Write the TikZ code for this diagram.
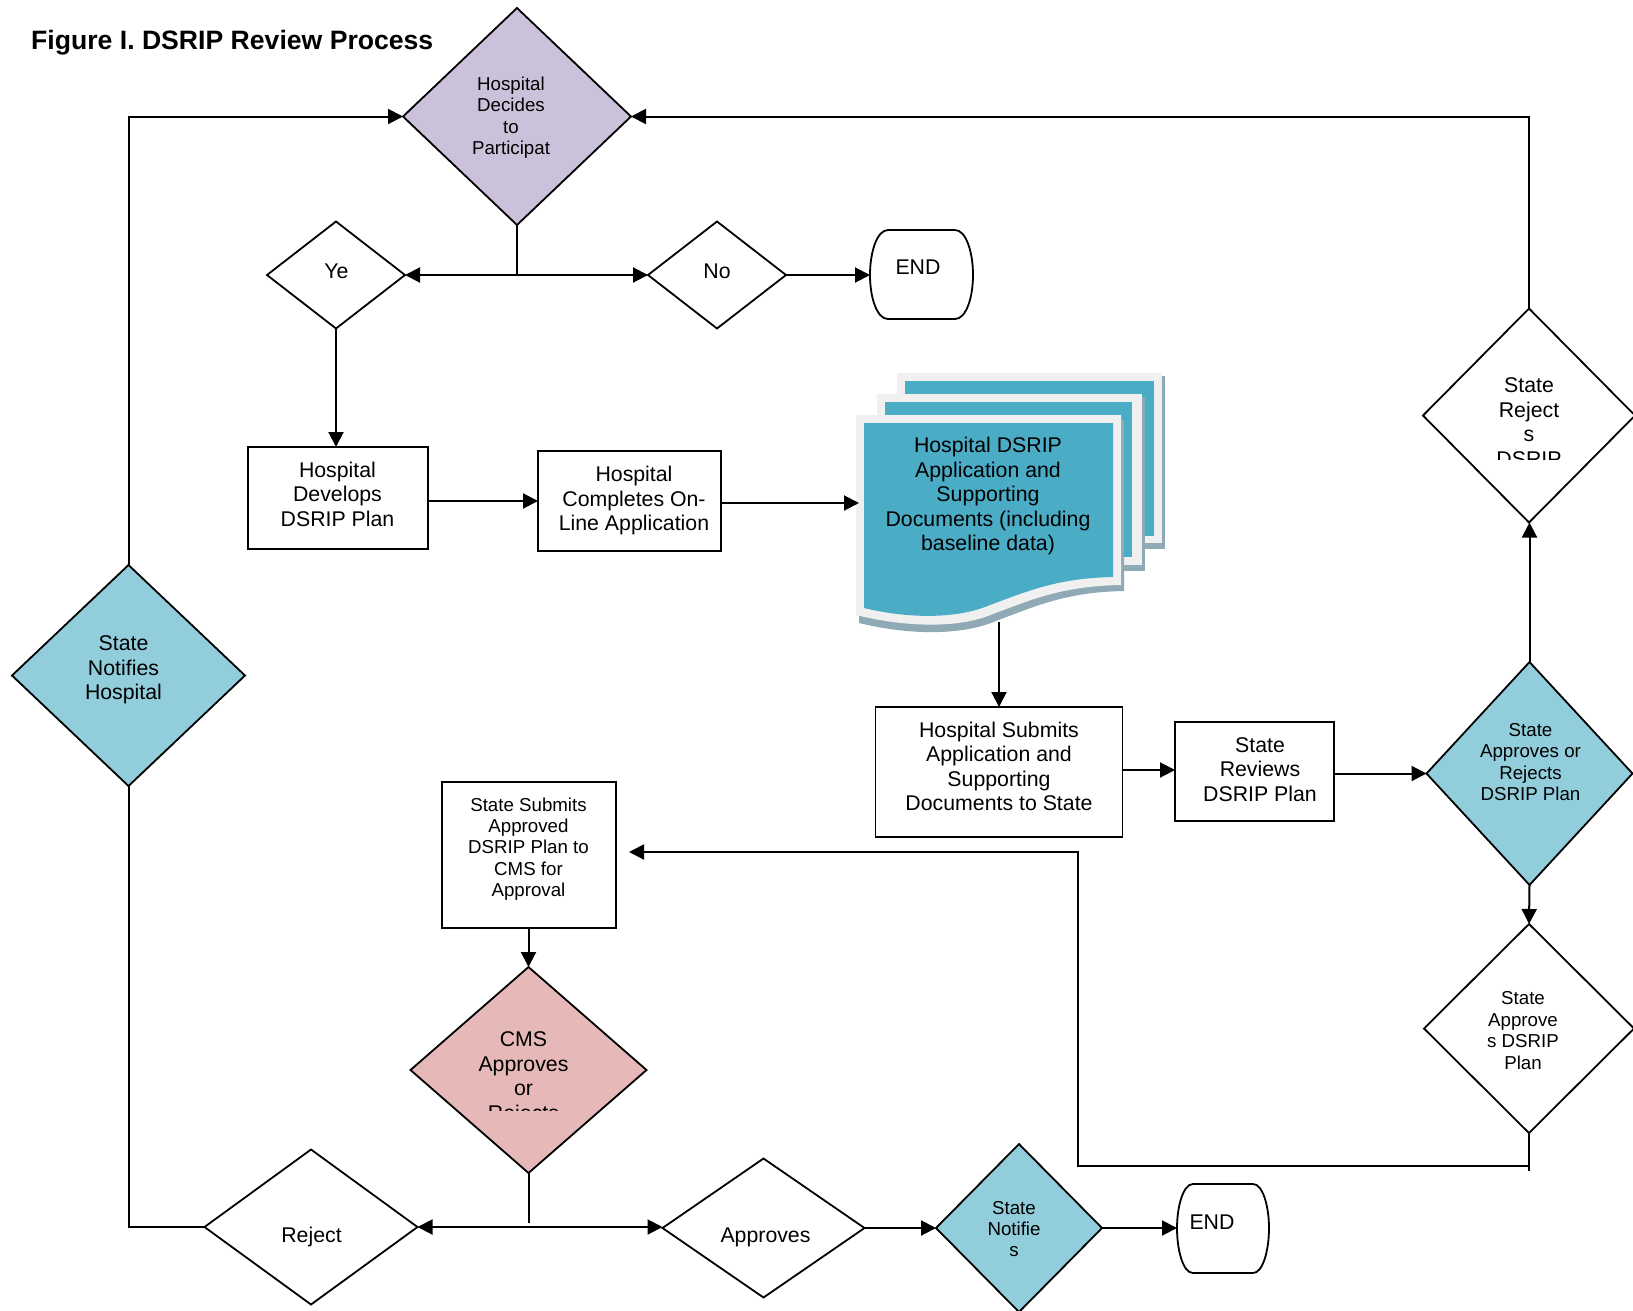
\documentclass[tikz,border=0pt]{standalone}
\usepackage{fontspec}
\setmainfont{Liberation Sans}
\usetikzlibrary{shapes.geometric,arrows.meta,calc}
\definecolor{cpurple}{HTML}{CCC1DA}
\definecolor{cblue}{HTML}{92CDDC}
\definecolor{cpink}{HTML}{E6B8B7}
\definecolor{cdoc}{HTML}{4BACC6}
\definecolor{cpad}{HTML}{F0F0F0}
\definecolor{cshade}{HTML}{8FAAB5}
\tikzset{
  dia/.style={diamond,draw=black,line width=1.8pt,inner sep=0pt,outer sep=0pt},
  boxn/.style={rectangle,draw=black,line width=1.8pt,inner sep=0pt,outer sep=0pt},
  anchorbox/.style={rectangle,inner sep=0pt,outer sep=0pt},
  tmain/.style={align=center,inner sep=0pt,font=\fontsize{21.3}{24.5}\selectfont},
  tsmall/.style={align=center,inner sep=0pt,font=\fontsize{18.7}{21.4}\selectfont},
  conn/.style={line width=2pt,draw=black},
  arr/.style={line width=2pt,draw=black,-{Triangle[length=15pt,width=15pt]}},
  endshape/.style={draw=black,line width=1.8pt,fill=white}
}
\begin{document}
\begin{tikzpicture}[x=1pt,y=-1pt]
\useasboundingbox (0,0) rectangle (1633,1310);
\clip (0,0) rectangle (1633,1310);
\fill[white] (0,0) rectangle (1633,1310);

% stacked document
\fill[cshade] (900,376) rectangle (1165,549);
\fill[cpad] (897,373) rectangle (1162,543);
\fill[cdoc] (905,381) rectangle (1154,536);
\fill[cshade] (880,397) rectangle (1145,571);
\fill[cpad] (877,394) rectangle (1142,565);
\fill[cdoc] (885,402) rectangle (1132,557);
\fill[cshade] (859,420) -- (1124,420) -- (1124,591)
  .. controls (1068,592) and (1038,605) .. (996,621)
  .. controls (961,636) and (908,635) .. (859,623) -- cycle;
\fill[cpad] (856,415) -- (1121,415) -- (1121,585)
  .. controls (1065,586) and (1035,598) .. (993,614)
  .. controls (958,629) and (905,627) .. (856,615) -- cycle;
\fill[cdoc] (864,423) -- (1113,423) -- (1113,577)
  .. controls (1060,578) and (1030,590) .. (990,605)
  .. controls (955,620) and (905,618) .. (864,608) -- cycle;
\node[tmain] (doc) at (988,496) {Hospital DSRIP\\Application and\\Supporting\\Documents (including\\baseline data)};
\coordinate (docin) at (859,503);
\coordinate (docout) at (999,622);

% diamonds
\node[dia,fill=cpurple,minimum width=228pt,minimum height=217pt] (d1) at (517,116.5) {};
\node[tsmall] (d1t) at (511,117.6) {Hospital\\Decides\\to\\Participat};
\node[dia,minimum width=138pt,minimum height=107pt] (yes) at (336,275) {};
\node[tmain] (yest) at (336.5,271) {Ye};
\node[dia,minimum width=138pt,minimum height=107pt] (no) at (717,275) {};
\node[tmain] (not) at (717,271) {No};
\node[dia,fill=cblue,minimum width=233pt,minimum height=221pt] (snh) at (128.5,675.5) {};
\node[tmain] (snht) at (123.5,670) {State\\Notifies\\Hospital};
\node[dia,minimum width=212pt,minimum height=214pt] (sr) at (1529,415.5) {};
\begin{scope}
  \clip (1420,340) rectangle (1633,459);
  \node[tmain] (srt) at (1529,422) {State\\Reject\\s\\DSRIP};
\end{scope}
\node[dia,fill=cblue,minimum width=206pt,minimum height=223pt] (sa) at (1529.5,773.5) {};
\node[tsmall] (sat) at (1530.5,762) {State\\Approves or\\Rejects\\DSRIP Plan};
\node[dia,minimum width=210pt,minimum height=209pt] (sap) at (1529,1028.5) {};
\node[tsmall] (sapt) at (1523,1030.5) {State\\Approve\\s DSRIP\\Plan};
\node[dia,fill=cpink,minimum width=236pt,minimum height=206pt] (cms) at (528.5,1070) {};
\begin{scope}
  \clip (410,1010) rectangle (647,1110);
  \node[tmain] (cmst) at (523.5,1078.5) {CMS\\Approves\\or\\Rejects};
\end{scope}
\node[dia,minimum width=213pt,minimum height=155pt] (rej) at (311,1227) {};
\node[tmain] (rejt) at (311.5,1237) {Reject};
\node[dia,minimum width=202pt,minimum height=139pt] (app) at (763.5,1228) {};
\node[tmain] (appt) at (765.5,1237) {Approves};
\node[dia,fill=cblue,minimum width=166pt,minimum height=168pt] (nt) at (1019,1228) {};
\node[tsmall] (ntt) at (1014,1229) {State\\Notifie\\s};

% boxes
\node[boxn,minimum width=180pt,minimum height=102pt] (dev) at (338,498) {};
\node[tmain] (devt) at (337.5,494) {Hospital\\Develops\\DSRIP Plan};
\node[boxn,minimum width=183pt,minimum height=100pt] (comp) at (629.5,501) {};
\node[tmain] (compt) at (634,500.5) {Hospital\\Completes On-\\Line Application};
\node[boxn,minimum width=247pt,minimum height=130pt] (sub) at (999,772) {};
\node[tmain] (subt) at (999,766.5) {Hospital Submits\\Application and\\Supporting\\Documents to State};
\node[boxn,minimum width=159pt,minimum height=99pt] (rev) at (1254.5,771.5) {};
\node[tmain] (revt) at (1260,769.5) {State\\Reviews\\DSRIP Plan};
\node[boxn,minimum width=174pt,minimum height=146pt] (cmsb) at (529,855) {};
\node[tsmall] (cmsbt) at (528.5,849) {State Submits\\Approved\\DSRIP Plan to\\CMS for\\Approval};

% END shapes
\node[anchorbox,minimum width=103pt,minimum height=89pt] (e1) at (921.5,275) {};
\draw[endshape] (888,230) -- (955,230)
  .. controls (966,230) and (973,252) .. (973,275)
  .. controls (973,298) and (966,319) .. (955,319)
  -- (888,319)
  .. controls (877,319) and (870,298) .. (870,275)
  .. controls (870,252) and (877,230) .. (888,230) -- cycle;
\node[tmain] (e1t) at (918,267) {END};
\node[anchorbox,minimum width=92pt,minimum height=89pt] (e2) at (1223,1228) {};
\draw[endshape] (1193,1184) -- (1253,1184)
  .. controls (1263,1184) and (1269,1207) .. (1269,1228)
  .. controls (1269,1250) and (1263,1273) .. (1253,1273)
  -- (1193,1273)
  .. controls (1183,1273) and (1177,1250) .. (1177,1228)
  .. controls (1177,1207) and (1183,1184) .. (1193,1184) -- cycle;
\node[tmain] (e2t) at (1212,1222) {END};

% title
\node[anchor=west,inner sep=0pt,font=\fontsize{26.6}{30}\selectfont\bfseries] (title) at (31,43) {Figure I. DSRIP Review Process};

% connectors
\coordinate (j1) at (d1.south |- yes.east);
\draw[conn] (d1.south) -- (j1);
\draw[arr] (j1) -- (yes.east);
\draw[arr] (j1) -- (no.west);
\draw[arr] (no.east) -- (e1.west);
\draw[arr] (yes.south) -- (yes.south |- dev.north);
\draw[arr] (dev.east |- comp.west) -- (comp.west);
\draw[arr] (comp.east |- docin) -- (docin);
\draw[arr] (docout) -- (sub.north);
\coordinate (revin) at (1175,770);
\draw[arr] (sub.east |- revin) -- (revin);
\draw[arr] (rev.east |- sa.west) -- (sa.west);
\draw[arr] (sa.north) -- (sa.north |- sr.south);
\draw[arr] (sa.south) -- (sap.north);
\draw[arr] (sr.north) |- (d1.east);
\draw[arr] (snh.north) |- (d1.west);
\draw[conn] (snh.south) |- (rej.west);
\coordinate (stub) at (1529,1171);
\draw[conn] (sap.south) -- (stub);
\coordinate (bend) at (1529,1166);
\coordinate (cmsin) at (629,852);
\draw[arr] (bend) -- (1078,1166) -- (1078,852) -- (cmsin);
\draw[arr] (cmsb.south -| cms.north) -- (cms.north);
\coordinate (cmsstub) at (528.5,1223);
\draw[conn] (cms.south) -- (cmsstub);
\coordinate (j2) at (528.5,1227);
\draw[arr] (j2) -- (rej.east);
\draw[arr] (j2) -- (j2 -| app.west);
\draw[arr] (app.east) -- (nt.west);
\draw[arr] (nt.east) -- (e2.west);
\end{tikzpicture}
\end{document}
